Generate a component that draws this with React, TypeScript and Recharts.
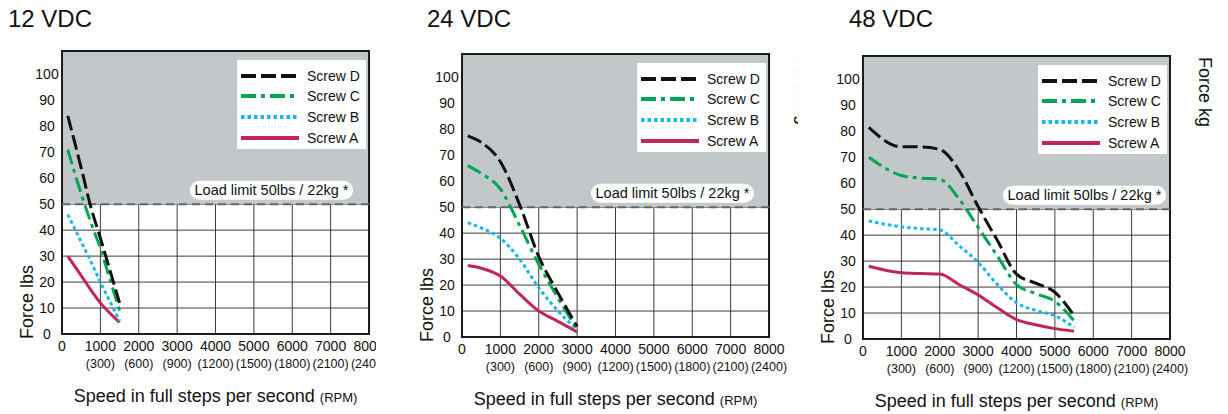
import React from 'react'
import {
  LineChart,
  Line,
  XAxis,
  YAxis,
  CartesianGrid,
  ReferenceArea,
  ReferenceLine,
  Legend,
} from 'recharts'

const SPEED_TICKS = [0, 1000, 2000, 3000, 4000, 5000, 6000, 7000, 8000]
const RPM_LABELS = ['', '(300)', '(600)', '(900)', '(1200)', '(1500)', '(1800)', '(2100)', '(2400)']
const LBS_TICKS = [0, 10, 20, 30, 40, 50, 60, 70, 80, 90, 100]
const KG_TICKS = [10, 20, 30, 40, 50, 60, 70, 80, 90, 100]
const KG_LABELS = ['4', '9', '13', '18', '22', '27', '31', '36', '40', '44']

// 12 VDC
const SPEED_12 = [150, 500, 750, 1000, 1250, 1500]
const SCREW_D_12 = [84, 64, 49, 37, 24.5, 12]
const SCREW_C_12 = [71, 54, 43, 33, 21, 9]
const SCREW_B_12 = [46, 35.5, 28, 20, 12.5, 5]
const SCREW_A_12 = [30, 22.5, 17, 12, 8, 4.5]

// 24 VDC
const SPEED_24 = [150, 500, 1000, 1500, 2000, 2500, 3000]
const SCREW_D_24 = [77.5, 75, 67.5, 51, 31, 17, 4]
const SCREW_C_24 = [66, 63, 57, 43, 28, 15, 3]
const SCREW_B_24 = [44, 42, 38, 30, 19, 10, 3]
const SCREW_A_24 = [27.5, 26.5, 23.5, 16.5, 10, 6, 2]

// 48 VDC
const SPEED_48 = [150, 1000, 1500, 2000, 2500, 3000, 3500, 4000, 4500, 5000, 5500]
const SCREW_D_48 = [81.5, 74, 74, 73, 65, 51, 38, 25, 21.5, 18, 9]
const SCREW_C_48 = [70, 63, 62, 61.5, 54, 43, 32, 21, 17.5, 14.5, 7]
const SCREW_B_48 = [45.5, 43.2, 42.5, 42, 36, 29.5, 21, 14, 11, 9, 4.5]
const SCREW_A_48 = [28, 25.5, 25.2, 25, 21, 17, 12, 7.5, 5.5, 4, 3]

const LOAD_LIMIT = 50
const Y_MAX = 109

const SERIES = [
  { key: 'd', name: 'Screw D', color: '#111111', dash: '15 5' },
  { key: 'c', name: 'Screw C', color: '#00a651', dash: '15 5 4 5' },
  { key: 'b', name: 'Screw B', color: '#14b8f0', dash: '3.5 3' },
  { key: 'a', name: 'Screw A', color: '#c2255c', dash: undefined },
]

const buildRows = (xs: number[], d: number[], c: number[], b: number[], a: number[]) =>
  xs.map((speed, i) => ({ speed, d: d[i], c: c[i], b: b[i], a: a[i] }))

const FONT = '"Liberation Sans", Arial, sans-serif'
const CHART_W = 420
const CHART_H = 414
const PLOT_H = 283
const AXIS_L = 62
const AXIS_R = 51

const SpeedTick = (props: any) => {
  const { x, y, payload } = props
  const i = SPEED_TICKS.indexOf(payload.value)
  return (
    <g>
      <text x={x} y={y + 9} textAnchor="middle" fontSize={14} fill="#111">
        {payload.value}
      </text>
      <text x={x} y={y + 25.5} textAnchor="middle" fontSize={12.5} fill="#111">
        {RPM_LABELS[i]}
      </text>
    </g>
  )
}

const LbsTick = (props: any) => {
  const { x, y, payload } = props
  return (
    <text x={x} y={y} textAnchor="middle" dominantBaseline="central" fontSize={14} fill="#111">
      {payload.value}
    </text>
  )
}

const KgTick = (props: any) => {
  const { x, y, payload } = props
  const i = KG_TICKS.indexOf(payload.value)
  return (
    <text x={x} y={y} textAnchor="start" dominantBaseline="central" fontSize={14} fill="#111">
      {KG_LABELS[i]}
    </text>
  )
}

const LegendBox = () => (
  <div style={{ background: '#fff', width: 129, height: 89, position: 'relative', fontFamily: FONT }}>
    {SERIES.map((s, i) => (
      <div
        key={s.key}
        style={{ position: 'absolute', left: 0, top: 5.5 + i * 20.7, height: 20, width: 129 }}
      >
        <svg width={60} height={20} style={{ position: 'absolute', left: 3, top: 0 }}>
          <line x1={1} y1={10} x2={59} y2={10} stroke={s.color} strokeWidth={4} strokeDasharray={s.dash} />
        </svg>
        <span style={{ position: 'absolute', left: 70, top: 1, fontSize: 14, lineHeight: '18px', color: '#111' }}>
          {s.name}
        </span>
      </div>
    ))}
  </div>
)

interface PanelProps {
  title: string
  titleX: number
  left: number
  clip: number
  plotTop: number
  pillGap: number
  rows: any[]
}

const Panel: React.FC<PanelProps> = ({ title, titleX, left, clip, plotTop, pillGap, rows }) => {
  const bottom = CHART_H - plotTop - PLOT_H - 40
  return (
    <div style={{ position: 'absolute', left, top: 0, width: clip, height: CHART_H, overflow: 'hidden' }}>
      <div style={{ position: 'absolute', left: titleX, top: 6, fontSize: 24, lineHeight: '26px', color: '#111' }}>
        {title}
      </div>
      <LineChart
        width={CHART_W}
        height={CHART_H}
        data={rows}
        margin={{ top: plotTop, right: 0, bottom, left: 0 }}
      >
        <ReferenceArea x1={0} x2={8000} y1={LOAD_LIMIT} y2={Y_MAX} fill="#c2c7c9" fillOpacity={1} stroke="none" />
        <CartesianGrid stroke="#3c3c3c" strokeWidth={1} />
        <XAxis
          dataKey="speed"
          type="number"
          domain={[0, 8000]}
          ticks={SPEED_TICKS}
          interval={0}
          axisLine={false}
          tickLine={false}
          tickSize={0}
          tickMargin={8}
          height={40}
          tick={<SpeedTick />}
          label={(p: any) => {
            const vb = p.viewBox
            return (
              <text x={vb.x + vb.width / 2} y={vb.y + 68} textAnchor="middle" fill="#111">
                <tspan fontSize={18}>Speed in full steps per second </tspan>
                <tspan fontSize={13}>(RPM)</tspan>
              </text>
            )
          }}
        />
        <YAxis
          type="number"
          domain={[0, Y_MAX]}
          ticks={LBS_TICKS}
          interval={0}
          width={AXIS_L}
          axisLine={false}
          tickLine={false}
          tickSize={0}
          tickMargin={15}
          tick={<LbsTick />}
          label={(p: any) => {
            const vb = p.viewBox
            const cx = vb.x + vb.width - 35
            const cy = vb.y + vb.height - 32
            return (
              <text
                x={cx}
                y={cy}
                transform={`rotate(-90 ${cx} ${cy})`}
                textAnchor="middle"
                dominantBaseline="central"
                fontSize={18}
                fill="#111"
              >
                Force lbs
              </text>
            )
          }}
        />
        <YAxis
          yAxisId="kg"
          orientation="right"
          type="number"
          domain={[0, Y_MAX]}
          ticks={KG_TICKS}
          interval={0}
          width={AXIS_R}
          axisLine={false}
          tickLine={false}
          tickSize={0}
          tickMargin={5}
          tick={<KgTick />}
          label={(p: any) => {
            const vb = p.viewBox
            const cx = vb.x + 35
            const cy = vb.y + 1
            return (
              <text
                x={cx}
                y={cy}
                transform={`rotate(90 ${cx} ${cy})`}
                textAnchor="start"
                dominantBaseline="central"
                fontSize={18}
                fill="#111"
              >
                Force kg
              </text>
            )
          }}
        />
        <ReferenceLine
          y={LOAD_LIMIT}
          stroke="#666"
          strokeWidth={2}
          strokeDasharray="8 5"
          label={(p: any) => {
            const vb = p.viewBox
            const right = vb.x + vb.width - pillGap
            const w = 163
            const h = 19
            const cy = vb.y - 14
            return (
              <g>
                <rect x={right - w} y={cy - h / 2} width={w} height={h} rx={9.5} fill="#fff" />
                <text
                  x={right - w / 2}
                  y={cy}
                  textAnchor="middle"
                  dominantBaseline="central"
                  fontSize={14.5}
                  fill="#111"
                >
                  Load limit 50lbs / 22kg *
                </text>
              </g>
            )
          }}
        />
        {SERIES.slice()
          .reverse()
          .map((s) => (
            <Line
              key={s.key}
              dataKey={s.key}
              name={s.name}
              type="monotone"
              stroke={s.color}
              strokeWidth={3}
              strokeDasharray={s.dash}
              dot={false}
              activeDot={false}
              isAnimationActive={false}
            />
          ))}
        <ReferenceArea x1={0} x2={8000} y1={0} y2={Y_MAX} fill="none" stroke="#1a1a1a" strokeWidth={2} />
        <Legend
          layout="vertical"
          align="center"
          verticalAlign="middle"
          width={129}
          wrapperStyle={{ left: AXIS_L + 175, top: plotTop + 9, width: 129, height: 89 }}
          content={() => <LegendBox />}
        />
      </LineChart>
    </div>
  )
}

export default function App() {
  return (
    <div
      style={{
        position: 'fixed',
        left: 0,
        top: 0,
        width: 1228,
        height: 414,
        background: '#fff',
        fontFamily: FONT,
        overflow: 'hidden',
      }}
    >
      <Panel
        title="12 VDC"
        titleX={8}
        left={0}
        clip={376}
        plotTop={51}
        pillGap={16}
        rows={buildRows(SPEED_12, SCREW_D_12, SCREW_C_12, SCREW_B_12, SCREW_A_12)}
      />
      <Panel
        title="24 VDC"
        titleX={27}
        left={400}
        clip={398}
        plotTop={54}
        pillGap={15}
        rows={buildRows(SPEED_24, SCREW_D_24, SCREW_C_24, SCREW_B_24, SCREW_A_24)}
      />
      <Panel
        title="48 VDC"
        titleX={48}
        left={801}
        clip={427}
        plotTop={56}
        pillGap={4}
        rows={buildRows(SPEED_48, SCREW_D_48, SCREW_C_48, SCREW_B_48, SCREW_A_48)}
      />
    </div>
  )
}
